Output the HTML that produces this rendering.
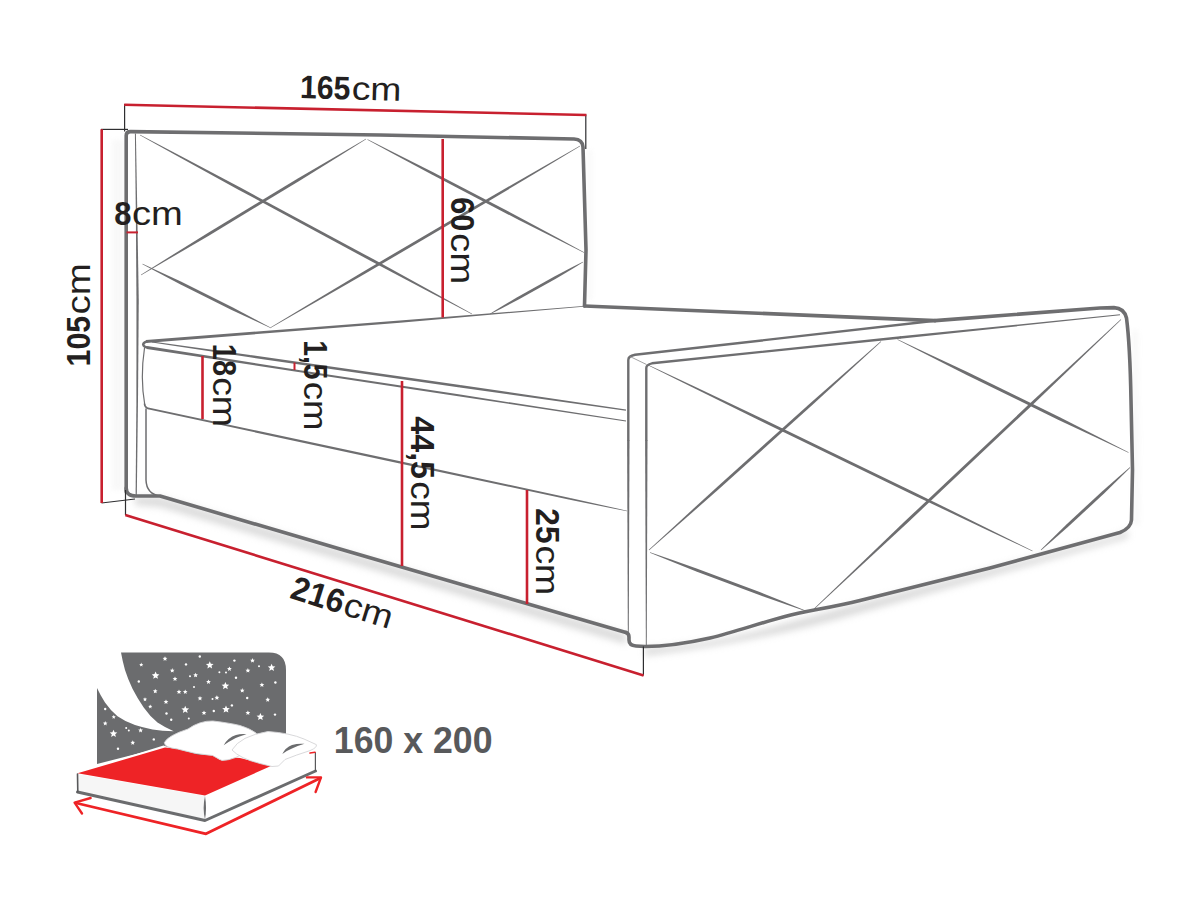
<!DOCTYPE html>
<html lang="en">
<head>
<meta charset="utf-8">
<title>Bed dimensions</title>
<style>
html,body{margin:0;padding:0;background:#fff;}
body{width:1200px;height:900px;overflow:hidden;font-family:"Liberation Sans",sans-serif;}
svg{display:block;}
</style>
</head>
<body>
<svg width="1200" height="900" viewBox="0 0 1200 900">
<rect width="1200" height="900" fill="#fff"/>
<defs><filter id="bl" x="-20%" y="-50%" width="140%" height="200%"><feGaussianBlur stdDeviation="3.5"/></filter><filter id="bl2" x="-50%" y="-20%" width="200%" height="140%"><feGaussianBlur stdDeviation="2.5"/></filter></defs>
<g filter="url(#bl)" opacity="0.5">
<polygon fill="#b8b8b8" points="135,497 160,497 626,634 626,644 160,507 135,505"/>
<path d="M645,648 Q700,645 760,630 L860,603 L1115,536 L1128,530 L1128,538 L860,613 Q760,642 645,656 Z" fill="#b8b8b8"/>
</g>
<g filter="url(#bl2)" opacity="0.11">
<polygon fill="#c4c4c4" points="1132,330 1138,330 1140,525 1133,525"/>
<polygon fill="#c4c4c4" points="112,140 124,140 124,490 112,490"/>
<polygon fill="#c4c4c4" points="587,150 592,150 592,300 587,300"/>
</g>
<path d="M126.2,492 L126.2,135.5 Q126.2,131.6 130.5,131.6 L380,135 L574,139 Q582.5,139.5 583,147 L586,250 L584.5,306" fill="none" stroke="#6e6e70" stroke-width="3.60" stroke-linecap="round" stroke-linejoin="round" />
<path d="M126.2,488 Q126.2,496 136,496 L160,496 L340,549 L626,632.5" fill="none" stroke="#6e6e70" stroke-width="3.60" stroke-linecap="round" stroke-linejoin="round" />
<polygon fill="#6e6e70" points="134.90,133.51 135.85,215.01 137.35,214.99 135.90,133.49"/>
<polygon fill="#6e6e70" points="135.85,215.01 136.45,300.01 138.75,299.99 137.35,214.99"/>
<polygon fill="#6e6e70" points="136.45,300.00 136.40,400.00 138.00,400.00 138.75,300.00"/>
<polygon fill="#6e6e70" points="136.40,399.99 135.60,495.99 136.80,496.01 138.00,400.01"/>
<polygon fill="#6e6e70" points="139.9,135.2 179.5,157.2 238.9,189.9 371.7,261.5 431.8,293.2 471.9,314.2 472.1,313.8 432.5,291.8 373.1,259.1 240.3,187.5 180.2,155.8 140.1,134.8"/>
<polygon fill="#6e6e70" points="365.9,138.8 338.6,154.7 297.8,178.6 207.8,233.0 167.6,258.0 140.9,274.8 141.1,275.2 168.4,259.3 209.2,235.4 299.2,181.0 339.4,156.0 366.1,139.2"/>
<polygon fill="#6e6e70" points="367.4,139.7 393.1,153.7 431.8,174.6 518.4,219.8 557.7,239.6 583.9,252.7 584.1,252.3 558.4,238.3 519.7,217.4 433.1,172.2 393.8,152.4 367.6,139.3"/>
<polygon fill="#6e6e70" points="142.4,264.2 157.5,272.3 180.1,284.3 231.1,309.7 254.4,320.6 269.9,327.7 270.1,327.3 255.0,319.2 232.4,307.2 181.4,281.8 158.1,270.9 142.6,263.8"/>
<polygon fill="#6e6e70" points="270.1,328.2 307.6,306.8 363.7,274.6 487.7,201.8 543.2,168.5 580.1,146.2 579.9,145.8 542.4,167.2 486.3,199.4 362.3,272.2 306.8,305.5 269.9,327.8"/>
<polygon fill="#6e6e70" points="582.9,261.8 571.5,267.6 554.4,276.4 517.2,297.2 500.8,307.1 489.9,313.8 490.1,314.2 501.5,308.4 518.6,299.6 555.8,278.8 572.2,268.9 583.1,262.2"/>
<polygon fill="#6e6e70" points="146.11,342.90 400.09,322.70 399.91,320.50 145.89,340.10"/>
<polygon fill="#6e6e70" points="400.09,322.70 583.03,306.65 582.97,305.95 399.91,320.50"/>
<path d="M147,341.4 Q142,343.2 143.6,345.6 Q144.5,347 147,347.5" fill="none" stroke="#6e6e70" stroke-width="2.60" stroke-linecap="round" stroke-linejoin="round" />
<polygon fill="#6e6e70" points="151.91,342.59 249.84,357.24 250.16,354.96 152.09,341.41"/>
<polygon fill="#6e6e70" points="249.83,357.29 459.81,387.59 460.19,385.01 250.17,354.91"/>
<polygon fill="#6e6e70" points="459.82,387.59 625.91,410.74 626.09,409.46 460.18,385.01"/>
<polygon fill="#6e6e70" points="146.77,348.98 299.85,372.14 300.15,370.26 147.23,346.02"/>
<polygon fill="#6e6e70" points="299.85,372.19 459.85,396.59 460.15,394.61 300.15,370.21"/>
<polygon fill="#6e6e70" points="459.85,396.59 625.93,421.44 626.07,420.56 460.15,394.61"/>
<path d="M144.5,348 Q140,378 144.8,405" fill="none" stroke="#6e6e70" stroke-width="1.20" stroke-linecap="round" stroke-linejoin="round" />
<path d="M144.5,404 Q144.8,407.5 148,408.4" fill="none" stroke="#6e6e70" stroke-width="1.60" stroke-linecap="round" stroke-linejoin="round" />
<polygon fill="#6e6e70" points="147.81,409.28 399.76,463.52 400.24,461.28 148.19,407.52"/>
<polygon fill="#6e6e70" points="399.76,463.52 569.81,499.68 570.19,497.92 400.24,461.28"/>
<polygon fill="#6e6e70" points="569.81,499.68 626.93,511.34 627.07,510.66 570.19,497.92"/>
<path d="M146,409 L146,480 Q146.5,494 160,496" fill="none" stroke="#6e6e70" stroke-width="1.50" stroke-linecap="round" stroke-linejoin="round" />
<path d="M584.5,306 L935,320.6" fill="none" stroke="#6e6e70" stroke-width="3.60" stroke-linecap="round" stroke-linejoin="round" />
<path d="M935,320.6 L1100,308 L1114,307.6 Q1124,308 1126.5,318 Q1130,345 1131,400 L1132.5,470 L1131.5,520 Q1131,528 1120,532.5 L990,568 L860,600.5 C830,608 805,611 785,616.5 C760,623 735,632 710,638 C690,642.5 665,646.5 645,646.5 L636,646 Q629,645.5 629,640 L629,637 Q629,633.5 626,632.5" fill="none" stroke="#6e6e70" stroke-width="3.60" stroke-linecap="round" stroke-linejoin="round" />
<path d="M628.3,440 L628.3,360 Q628.3,356 635,354.8 L935,320.8" fill="none" stroke="#6e6e70" stroke-width="2.40" stroke-linecap="round" stroke-linejoin="round" />
<polygon fill="#6e6e70" points="627.10,440.00 627.85,640.00 628.75,640.00 629.50,440.00"/>
<path d="M646.3,440 L646.3,368 Q646.3,364.5 652,363.3 L900,337.5" fill="none" stroke="#6e6e70" stroke-width="2.40" stroke-linecap="round" stroke-linejoin="round" />
<polygon fill="#6e6e70" points="645.10,440.00 645.85,646.00 646.75,646.00 647.50,440.00"/>
<polygon fill="#6e6e70" points="900.12,338.69 1120.05,315.30 1119.95,314.30 899.88,336.31"/>
<line x1="630.0" y1="356.5" x2="646.5" y2="364.5" stroke="#8a8a8c" stroke-width="0.80" stroke-linecap="butt"/>
<polygon fill="#6e6e70" points="647.9,365.2 693.8,388.0 762.7,422.1 916.5,496.5 986.0,529.4 1032.4,551.2 1032.6,550.8 986.7,528.0 917.8,493.9 764.0,419.5 694.5,386.6 648.1,364.8"/>
<polygon fill="#6e6e70" points="649.2,550.2 677.4,525.6 719.5,488.5 812.3,405.1 853.7,367.1 881.2,341.7 880.8,341.3 852.6,365.9 810.5,403.0 717.7,486.4 676.3,524.4 648.8,549.8"/>
<polygon fill="#6e6e70" points="897.4,339.7 924.9,353.8 966.2,374.7 1058.6,419.9 1100.4,439.6 1128.4,452.7 1128.6,452.3 1101.1,438.2 1059.8,417.3 967.4,372.1 925.6,352.4 897.6,339.3"/>
<polygon fill="#6e6e70" points="1120.8,319.3 1083.6,353.7 1027.9,405.3 905.1,521.1 850.3,573.7 813.8,608.8 814.2,609.2 851.4,574.8 907.1,523.2 1029.9,407.4 1084.7,354.8 1121.2,319.7"/>
<polygon fill="#6e6e70" points="649.9,552.7 668.4,560.2 696.3,571.4 758.7,594.8 787.0,604.7 805.9,611.2 806.1,610.8 787.6,603.3 759.7,592.1 697.3,568.7 669.0,558.8 650.1,552.3"/>
<polygon fill="#6e6e70" points="1129.8,467.3 1118.8,476.8 1102.3,491.2 1066.7,524.2 1051.2,539.5 1040.8,549.8 1041.2,550.2 1052.2,540.7 1068.7,526.3 1104.3,493.3 1119.8,478.0 1130.2,467.7"/>
<line x1="124.6" y1="104.0" x2="124.6" y2="131.5" stroke="#2e2e30" stroke-width="1.20" stroke-linecap="butt"/>
<line x1="101.0" y1="129.4" x2="128.0" y2="129.4" stroke="#2e2e30" stroke-width="1.20" stroke-linecap="butt"/>
<line x1="585.8" y1="114.5" x2="585.8" y2="149.0" stroke="#2e2e30" stroke-width="1.20" stroke-linecap="butt"/>
<line x1="101.5" y1="503.0" x2="135.0" y2="499.0" stroke="#2e2e30" stroke-width="1.10" stroke-linecap="butt"/>
<line x1="125.5" y1="490.0" x2="125.5" y2="515.0" stroke="#2e2e30" stroke-width="1.20" stroke-linecap="butt"/>
<line x1="643.4" y1="646.5" x2="643.4" y2="675.5" stroke="#2e2e30" stroke-width="1.20" stroke-linecap="butt"/>
<line x1="124.2" y1="104.8" x2="586.4" y2="115.0" stroke="#c8202f" stroke-width="2.60" stroke-linecap="butt"/>
<line x1="101.7" y1="129.2" x2="101.7" y2="503.0" stroke="#c8202f" stroke-width="2.60" stroke-linecap="butt"/>
<line x1="125.3" y1="515.0" x2="643.6" y2="675.4" stroke="#c8202f" stroke-width="2.60" stroke-linecap="butt"/>
<line x1="442.7" y1="139.0" x2="442.7" y2="317.5" stroke="#c8202f" stroke-width="2.60" stroke-linecap="butt"/>
<line x1="126.5" y1="232.4" x2="138.0" y2="232.4" stroke="#c8202f" stroke-width="2.00" stroke-linecap="butt"/>
<line x1="202.5" y1="356.0" x2="202.5" y2="419.0" stroke="#c8202f" stroke-width="2.60" stroke-linecap="butt"/>
<line x1="294.5" y1="362.5" x2="294.5" y2="370.0" stroke="#c8202f" stroke-width="2.00" stroke-linecap="butt"/>
<line x1="402.0" y1="381.0" x2="402.0" y2="566.0" stroke="#c8202f" stroke-width="2.60" stroke-linecap="butt"/>
<line x1="527.0" y1="490.0" x2="527.0" y2="604.0" stroke="#c8202f" stroke-width="2.60" stroke-linecap="butt"/>
<g transform="translate(300.4,98.0) rotate(1.70)" fill="#231f20" font-family="&quot;Liberation Sans&quot;, sans-serif" font-size="32.5"><text x="-0.7" y="0" font-weight="700" textLength="50.5" lengthAdjust="spacingAndGlyphs">165</text><text x="51.0" y="0" font-weight="400" textLength="49.8" lengthAdjust="spacingAndGlyphs">cm</text></g>
<g transform="translate(90.0,365.8) rotate(-90.00)" fill="#231f20" font-family="&quot;Liberation Sans&quot;, sans-serif" font-size="32.5"><text x="-0.7" y="0" font-weight="700" textLength="50.7" lengthAdjust="spacingAndGlyphs">105</text><text x="51.2" y="0" font-weight="400" textLength="51.3" lengthAdjust="spacingAndGlyphs">cm</text></g>
<g transform="translate(115.0,225.0) rotate(0.00)" fill="#231f20" font-family="&quot;Liberation Sans&quot;, sans-serif" font-size="32.5"><text x="-0.7" y="0" font-weight="700" textLength="17.2" lengthAdjust="spacingAndGlyphs">8</text><text x="17.0" y="0" font-weight="400" textLength="50.8" lengthAdjust="spacingAndGlyphs">cm</text></g>
<g transform="translate(450.7,198.0) rotate(90.00)" fill="#231f20" font-family="&quot;Liberation Sans&quot;, sans-serif" font-size="32.5"><text x="-0.7" y="0" font-weight="700" textLength="34.0" lengthAdjust="spacingAndGlyphs">60</text><text x="35.0" y="0" font-weight="400" textLength="51.3" lengthAdjust="spacingAndGlyphs">cm</text></g>
<g transform="translate(212.5,344.5) rotate(90.00)" fill="#231f20" font-family="&quot;Liberation Sans&quot;, sans-serif" font-size="32.5"><text x="-0.7" y="0" font-weight="700" textLength="32.2" lengthAdjust="spacingAndGlyphs">18</text><text x="32.7" y="0" font-weight="400" textLength="49.8" lengthAdjust="spacingAndGlyphs">cm</text></g>
<g transform="translate(304.0,341.0) rotate(90.00)" fill="#231f20" font-family="&quot;Liberation Sans&quot;, sans-serif" font-size="32.5"><text x="-0.7" y="0" font-weight="700" textLength="39.2" lengthAdjust="spacingAndGlyphs">1,5</text><text x="40.7" y="0" font-weight="400" textLength="48.8" lengthAdjust="spacingAndGlyphs">cm</text></g>
<g transform="translate(411.0,417.0) rotate(90.00)" fill="#231f20" font-family="&quot;Liberation Sans&quot;, sans-serif" font-size="32.5"><text x="-0.7" y="0" font-weight="700" textLength="62.7" lengthAdjust="spacingAndGlyphs">44,5</text><text x="64.2" y="0" font-weight="400" textLength="49.3" lengthAdjust="spacingAndGlyphs">cm</text></g>
<g transform="translate(536.0,509.0) rotate(90.00)" fill="#231f20" font-family="&quot;Liberation Sans&quot;, sans-serif" font-size="32.5"><text x="-0.7" y="0" font-weight="700" textLength="35.2" lengthAdjust="spacingAndGlyphs">25</text><text x="36.4" y="0" font-weight="400" textLength="49.8" lengthAdjust="spacingAndGlyphs">cm</text></g>
<g transform="translate(289.5,598.0) rotate(17.40)" fill="#231f20" font-family="&quot;Liberation Sans&quot;, sans-serif" font-size="33.5"><text x="-0.7" y="0" font-weight="700" textLength="54.2" lengthAdjust="spacingAndGlyphs">216</text><text x="54.4" y="0" font-weight="400" textLength="49.8" lengthAdjust="spacingAndGlyphs">cm</text></g>
<path d="M121,652.5 L269,652.5 Q286,652.5 286,670 L286,742 L200,760 L163.5,747 L97,764 L97,688 Q100.5,695.5 105,702.5 Q110.5,710.5 117.5,716.2 Q125.5,721.8 135,725 Q143.5,727.8 152.5,729.4 Q162,730.8 173.7,731.2 Q165,727.5 157.5,722.5 Q150,716.5 143.7,707.5 Q137.5,698.5 132.5,688.7 Q128,679.5 125,670 Q122.5,661 121,652.5 Z" fill="#6b6c6e"/>
<polygon fill="#fff" points="165.0,656.2 165.7,657.8 167.4,658.0 166.1,659.1 166.5,660.8 165.0,659.9 163.5,660.8 163.9,659.1 162.6,658.0 164.3,657.8"/>
<polygon fill="#fff" points="141.2,662.5 141.8,663.9 143.3,664.1 142.2,665.1 142.5,666.5 141.2,665.7 140.0,666.5 140.3,665.1 139.2,664.1 140.7,663.9"/>
<polygon fill="#fff" points="155.6,671.6 156.7,674.1 159.4,674.4 157.3,676.2 158.0,678.8 155.6,677.4 153.2,678.8 153.9,676.2 151.8,674.4 154.5,674.1"/>
<polygon fill="#fff" points="172.2,668.1 172.9,669.7 174.6,669.8 173.3,670.9 173.7,672.6 172.2,671.7 170.8,672.6 171.2,670.9 169.9,669.8 171.6,669.7"/>
<polygon fill="#fff" points="175.0,676.5 175.7,678.1 177.4,678.2 176.1,679.3 176.5,681.0 175.0,680.1 173.5,681.0 173.9,679.3 172.6,678.2 174.3,678.1"/>
<circle cx="138.8" cy="681.5" r="1.2" fill="#fff"/>
<circle cx="186.0" cy="664.4" r="1.2" fill="#fff"/>
<circle cx="199.8" cy="656.5" r="1.2" fill="#fff"/>
<polygon fill="#fff" points="209.8,661.2 210.8,663.8 213.6,664.0 211.5,665.8 212.1,668.5 209.8,667.0 207.4,668.5 208.0,665.8 205.9,664.0 208.7,663.8"/>
<polygon fill="#fff" points="195.6,672.8 196.3,674.3 198.0,674.5 196.7,675.6 197.1,677.3 195.6,676.4 194.1,677.3 194.5,675.6 193.2,674.5 194.9,674.3"/>
<circle cx="190.0" cy="676.2" r="1.0" fill="#fff"/>
<polygon fill="#fff" points="208.5,679.5 209.2,681.1 210.9,681.2 209.6,682.3 210.0,684.0 208.5,683.1 207.0,684.0 207.4,682.3 206.1,681.2 207.8,681.1"/>
<circle cx="219.4" cy="672.2" r="1.0" fill="#fff"/>
<polygon fill="#fff" points="229.4,666.5 230.1,668.1 231.8,668.2 230.5,669.3 230.9,671.0 229.4,670.1 227.9,671.0 228.3,669.3 227.0,668.2 228.7,668.1"/>
<circle cx="226.0" cy="672.5" r="1.0" fill="#fff"/>
<circle cx="234.4" cy="660.6" r="1.2" fill="#fff"/>
<circle cx="236.0" cy="677.8" r="1.2" fill="#fff"/>
<polygon fill="#fff" points="225.4,682.0 226.5,684.5 229.2,684.8 227.1,686.6 227.8,689.2 225.4,687.8 223.0,689.2 223.7,686.6 221.6,684.8 224.3,684.5"/>
<circle cx="194.0" cy="687.0" r="1.0" fill="#fff"/>
<polygon fill="#fff" points="155.2,688.8 155.9,690.3 157.6,690.5 156.3,691.6 156.7,693.3 155.2,692.4 153.8,693.3 154.2,691.6 152.9,690.5 154.6,690.3"/>
<polygon fill="#fff" points="179.0,689.5 179.7,691.1 181.4,691.2 180.1,692.3 180.5,694.0 179.0,693.1 177.5,694.0 177.9,692.3 176.6,691.2 178.3,691.1"/>
<polygon fill="#fff" points="185.2,689.5 185.9,691.1 187.6,691.2 186.3,692.3 186.7,694.0 185.2,693.1 183.8,694.0 184.2,692.3 182.9,691.2 184.6,691.1"/>
<polygon fill="#fff" points="145.0,697.2 145.6,698.6 147.1,698.7 145.9,699.7 146.3,701.2 145.0,700.4 143.7,701.2 144.1,699.7 142.9,698.7 144.4,698.6"/>
<polygon fill="#fff" points="166.0,699.5 166.7,701.1 168.4,701.2 167.1,702.3 167.5,704.0 166.0,703.1 164.5,704.0 164.9,702.3 163.6,701.2 165.3,701.1"/>
<polygon fill="#fff" points="150.2,704.4 150.8,705.8 152.3,705.9 151.2,706.9 151.5,708.4 150.2,707.6 149.0,708.4 149.3,706.9 148.2,705.9 149.7,705.8"/>
<polygon fill="#fff" points="200.0,695.9 200.7,697.5 202.4,697.6 201.1,698.7 201.5,700.4 200.0,699.5 198.5,700.4 198.9,698.7 197.6,697.6 199.3,697.5"/>
<polygon fill="#fff" points="216.9,695.2 217.6,696.8 219.3,697.0 218.0,698.1 218.4,699.8 216.9,698.9 215.4,699.8 215.8,698.1 214.5,697.0 216.2,696.8"/>
<circle cx="212.5" cy="699.0" r="1.0" fill="#fff"/>
<polygon fill="#fff" points="185.2,705.8 186.3,708.3 189.1,708.5 187.0,710.3 187.6,713.0 185.2,711.5 182.9,713.0 183.5,710.3 181.4,708.5 184.2,708.3"/>
<circle cx="166.5" cy="713.5" r="1.2" fill="#fff"/>
<circle cx="171.2" cy="719.8" r="1.2" fill="#fff"/>
<circle cx="188.8" cy="718.5" r="1.0" fill="#fff"/>
<polygon fill="#fff" points="204.0,710.5 204.7,712.1 206.4,712.2 205.1,713.3 205.5,715.0 204.0,714.1 202.5,715.0 202.9,713.3 201.6,712.2 203.3,712.1"/>
<circle cx="213.8" cy="711.0" r="1.2" fill="#fff"/>
<polygon fill="#fff" points="226.0,705.4 227.1,707.9 229.8,708.2 227.7,710.0 228.4,712.6 226.0,711.2 223.6,712.6 224.3,710.0 222.2,708.2 224.9,707.9"/>
<circle cx="231.9" cy="705.4" r="1.2" fill="#fff"/>
<circle cx="105.2" cy="709.0" r="1.2" fill="#fff"/>
<polygon fill="#fff" points="113.8,714.8 114.3,716.2 115.8,716.3 114.7,717.3 115.0,718.8 113.8,718.0 112.5,718.8 112.8,717.3 111.7,716.3 113.2,716.2"/>
<polygon fill="#fff" points="105.2,721.0 105.9,722.6 107.6,722.7 106.3,723.8 106.7,725.5 105.2,724.6 103.8,725.5 104.2,723.8 102.9,722.7 104.6,722.6"/>
<polygon fill="#fff" points="113.5,729.8 114.6,732.3 117.3,732.5 115.2,734.3 115.9,737.0 113.5,735.5 111.1,737.0 111.8,734.3 109.7,732.5 112.4,732.3"/>
<circle cx="126.2" cy="728.0" r="1.0" fill="#fff"/>
<circle cx="128.8" cy="730.6" r="1.0" fill="#fff"/>
<polygon fill="#fff" points="140.6,727.9 141.3,729.5 143.0,729.6 141.7,730.7 142.1,732.4 140.6,731.5 139.1,732.4 139.5,730.7 138.2,729.6 139.9,729.5"/>
<polygon fill="#fff" points="132.8,740.2 133.4,741.8 135.1,742.0 133.8,743.1 134.2,744.8 132.8,743.9 131.3,744.8 131.7,743.1 130.4,742.0 132.1,741.8"/>
<circle cx="153.8" cy="739.4" r="1.2" fill="#fff"/>
<circle cx="118.0" cy="748.8" r="1.2" fill="#fff"/>
<polygon fill="#fff" points="252.5,658.1 253.2,659.7 254.9,659.8 253.6,660.9 254.0,662.6 252.5,661.7 251.0,662.6 251.4,660.9 250.1,659.8 251.8,659.7"/>
<polygon fill="#fff" points="247.9,668.1 248.6,669.7 250.3,669.8 249.0,670.9 249.4,672.6 247.9,671.7 246.4,672.6 246.8,670.9 245.5,669.8 247.2,669.7"/>
<circle cx="259.0" cy="666.2" r="1.0" fill="#fff"/>
<polygon fill="#fff" points="271.6,663.8 272.7,666.3 275.4,666.5 273.3,668.3 274.0,671.0 271.6,669.5 269.2,671.0 269.9,668.3 267.8,666.5 270.5,666.3"/>
<polygon fill="#fff" points="261.9,682.5 262.6,684.1 264.3,684.2 263.0,685.3 263.4,687.0 261.9,686.1 260.4,687.0 260.8,685.3 259.5,684.2 261.2,684.1"/>
<circle cx="275.4" cy="682.5" r="1.2" fill="#fff"/>
<polygon fill="#fff" points="242.2,688.1 242.9,689.7 244.6,689.8 243.3,690.9 243.7,692.6 242.2,691.7 240.8,692.6 241.2,690.9 239.9,689.8 241.6,689.7"/>
<circle cx="247.2" cy="698.0" r="1.2" fill="#fff"/>
<polygon fill="#fff" points="267.8,697.2 268.4,698.8 270.1,699.0 268.8,700.1 269.2,701.8 267.8,700.9 266.3,701.8 266.7,700.1 265.4,699.0 267.1,698.8"/>
<polygon fill="#fff" points="247.9,710.4 248.6,712.0 250.3,712.1 249.0,713.2 249.4,714.9 247.9,714.0 246.4,714.9 246.8,713.2 245.5,712.1 247.2,712.0"/>
<polygon fill="#fff" points="260.4,712.9 261.5,715.4 264.2,715.7 262.1,717.5 262.8,720.1 260.4,718.7 258.0,720.1 258.7,717.5 256.6,715.7 259.3,715.4"/>
<circle cx="275.0" cy="714.6" r="1.2" fill="#fff"/>
<polygon fill="#fff" points="77,772.5 163.5,745.5 200,758 316,750 316,771 206,822 77.5,793"/>
<polygon fill="#f6f6f6" points="77.5,774 205,796 205,819 78,791.5"/>
<path d="M77.5,773.3 L165,747.5 L177.5,748.8 L197.5,754.4 L212.5,755 L220,760 L225,757 L240,758 L260,763 L271,766 L205,795.6 Z" fill="#ee2326"/>
<path d="M77.5,792 L205,820.5 L315.5,771" fill="none" stroke="#6b6c6e" stroke-width="3.00" stroke-linecap="round" stroke-linejoin="round" />
<path d="M77.5,774 L77.8,792" fill="none" stroke="#58595b" stroke-width="1.60" stroke-linecap="round" stroke-linejoin="round" />
<path d="M205,796 Q202.3,808 205,819.5 Q207,808 205,796 Z" fill="#6b6c6e"/>
<path d="M315.4,752.5 L315.4,770.5" fill="none" stroke="#58595b" stroke-width="1.20" stroke-linecap="round" stroke-linejoin="round" />
<path d="M164.4,742.5 Q168,735.5 188,729 Q200,720.5 213,721 Q230,723 240,725.5 Q250,728.5 256,733 Q262,741 250,749 Q236,760 222,760.5 L219,759 L212.5,755.5 Q196,754.5 177.5,749 Q164,747.5 164.4,742.5 Z" fill="#fff" stroke="#d4d4d6" stroke-width="0.9"/>
<path d="M232,750 Q240,736 268,731.5 Q290,733 304,739 L316.3,744.6 Q317.5,747.5 310,750.6 Q296,755 285,759.5 L278.5,766 L272,766.5 L260,763.5 Q240,758.5 232,750 Z" fill="#fff" stroke="#d4d4d6" stroke-width="0.9"/>
<path d="M223.7,745.2 Q228,737.5 236,735 Q241,733.7 246.5,734.3 Q238,736.5 233,739.5 Q228,742 223.7,745.2 Z" fill="#6b6c6e"/>
<path d="M282.3,754 Q285.5,747.5 292,745 Q298,743.2 304.5,743.8 Q297,746 292,748.5 Q287,750.5 282.3,754 Z" fill="#6b6c6e"/>
<path d="M76,803 L206,833.8 L320,778.2" fill="none" stroke="#ee2326" stroke-width="2.80" stroke-linecap="round" stroke-linejoin="round" />
<path d="M90.6,798 L74.6,802.6 L82,813.5" fill="none" stroke="#ee2326" stroke-width="2.40" stroke-linecap="round" stroke-linejoin="round" />
<path d="M307,777.4 L321,777.4 L315.6,792" fill="none" stroke="#ee2326" stroke-width="2.40" stroke-linecap="round" stroke-linejoin="round" />
<path d="M310,753 L315,752.2" fill="none" stroke="#ee2326" stroke-width="1.60" stroke-linecap="round" stroke-linejoin="round" />
<g transform="translate(334.5,753.2) rotate(0.00)" fill="#58595b" font-family="&quot;Liberation Sans&quot;, sans-serif" font-size="37.0"><text x="-0.7" y="0" font-weight="700" textLength="158.7" lengthAdjust="spacingAndGlyphs">160 x 200</text></g>
</svg>
</body>
</html>
